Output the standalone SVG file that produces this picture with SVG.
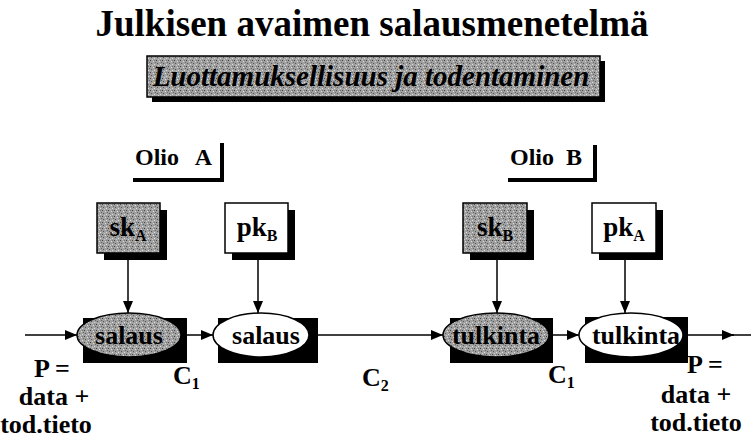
<svg xmlns="http://www.w3.org/2000/svg" width="753" height="439" viewBox="0 0 753 439">
<defs>
<pattern id="tex" width="6" height="6" patternUnits="userSpaceOnUse">
<rect width="6" height="6" fill="#a0a0a0"/>
<rect x="0" y="0" width="1" height="1" fill="#444"/>
<rect x="3" y="1" width="1" height="1" fill="#ddd"/>
<rect x="1" y="3" width="1" height="1" fill="#555"/>
<rect x="4" y="4" width="1" height="1" fill="#e0e0e0"/>
<rect x="5" y="2" width="1" height="1" fill="#666"/>
<rect x="2" y="5" width="1" height="1" fill="#ccc"/>
<rect x="4" y="0" width="1" height="1" fill="#777"/>
</pattern>
<marker id="ah" viewBox="0 0 12 10" refX="12" refY="5" markerWidth="12" markerHeight="10" markerUnits="userSpaceOnUse" orient="auto">
<path d="M0,0 L12,5 L0,10 Z" fill="#000"/>
</marker>
</defs>
<style>
text{font-family:"Liberation Serif","Times New Roman",serif;font-weight:bold;fill:#000}
.lbl{font-size:26px}
.olio{font-size:24px}
.key{font-size:27px}
.sub{font-size:16px}
.box{stroke:#000;stroke-width:1.5}
.sh{fill:#000}
.conn line{stroke:#000;stroke-width:1.5;marker-end:url(#ah)}
</style>
<rect width="753" height="439" fill="#fff"/>

<g id="title">
<text x="372" y="36" text-anchor="middle" style="font-size:37px">Julkisen avaimen salausmenetelmä</text>
</g>
<g id="subtitle">
<rect x="152" y="61" width="453" height="41" class="sh"/>
<rect x="147" y="56" width="453" height="41" fill="url(#tex)" class="box"/>
<text x="371" y="86" text-anchor="middle" style="font-size:29px;font-style:italic">Luottamuksellisuus ja todentaminen</text>
</g>

<g id="olioA">
<text x="135" y="165" class="olio">Olio</text>
<text x="212" y="165" class="olio" text-anchor="end">A</text>
<path d="M133,180 H222 V143" fill="none" stroke="#000" stroke-width="4"/>
</g>
<g id="olioB">
<text x="510" y="165" class="olio">Olio</text>
<text x="582" y="165" class="olio" text-anchor="end">B</text>
<path d="M508,180 H595 V145" fill="none" stroke="#000" stroke-width="4"/>
</g>

<g id="skA">
<rect x="104" y="210" width="63" height="50" class="sh"/>
<rect x="97" y="203" width="63" height="50" fill="url(#tex)" class="box"/>
<text x="128" y="236" class="key" text-anchor="middle">sk<tspan class="sub" dy="5">A</tspan></text>
</g>
<g id="pkB">
<rect x="232" y="210" width="63" height="50" class="sh"/>
<rect x="225" y="203" width="63" height="50" fill="#fff" class="box"/>
<text x="257" y="236" class="key" text-anchor="middle">pk<tspan class="sub" dy="5">B</tspan></text>
</g>
<g id="skB">
<rect x="470" y="210" width="64" height="50" class="sh"/>
<rect x="463" y="203" width="64" height="50" fill="url(#tex)" class="box"/>
<text x="495" y="236" class="key" text-anchor="middle">sk<tspan class="sub" dy="5">B</tspan></text>
</g>
<g id="pkA">
<rect x="599" y="210" width="64" height="50" class="sh"/>
<rect x="592" y="203" width="64" height="50" fill="#fff" class="box"/>
<text x="624" y="236" class="key" text-anchor="middle">pk<tspan class="sub" dy="5">A</tspan></text>
</g>

<g id="salausA">
<rect x="83" y="318" width="104" height="45" class="sh"/>
<ellipse cx="129" cy="335" rx="52" ry="22" fill="url(#tex)" class="box"/>
<text x="129" y="344" text-anchor="middle" class="lbl">salaus</text>
</g>
<g id="salausB">
<rect x="218" y="318" width="100" height="45" class="sh"/>
<ellipse cx="261" cy="335" rx="48" ry="22" fill="#fff" class="box"/>
<text x="266" y="344" text-anchor="middle" class="lbl">salaus</text>
</g>
<g id="tulkintaA">
<rect x="450" y="318" width="103" height="45" class="sh"/>
<ellipse cx="496" cy="335" rx="53" ry="22" fill="url(#tex)" class="box"/>
<text x="496" y="344" text-anchor="middle" class="lbl">tulkinta</text>
</g>
<g id="tulkintaB">
<rect x="585" y="317" width="103" height="46" class="sh"/>
<ellipse cx="631" cy="335" rx="52" ry="22" fill="#fff" class="box"/>
<text x="636" y="344" text-anchor="middle" class="lbl">tulkinta</text>
</g>

<g class="conn" id="connectors">
<line x1="25" y1="335" x2="77" y2="335"/>
<line x1="128" y1="253" x2="128" y2="313"/>
<line x1="187" y1="335" x2="213" y2="335"/>
<line x1="258" y1="253" x2="258" y2="313"/>
<line x1="318" y1="335" x2="443" y2="335"/>
<line x1="497" y1="253" x2="497" y2="313"/>
<line x1="553" y1="335" x2="579" y2="335"/>
<line x1="625" y1="253" x2="625" y2="313"/>
<line x1="688" y1="335" x2="734" y2="335"/>
<line x1="732" y1="335" x2="751" y2="335" style="marker-end:none"/>
</g>

<g id="labels">
<text x="52" y="377" text-anchor="middle" class="lbl">P =</text>
<text x="54" y="405" text-anchor="middle" class="lbl">data +</text>
<text x="46" y="433" text-anchor="middle" class="lbl">tod.tieto</text>
<text x="173" y="384" class="lbl">C<tspan class="sub" dy="5">1</tspan></text>
<text x="362" y="386" class="lbl">C<tspan class="sub" dy="5">2</tspan></text>
<text x="548" y="383" class="lbl">C<tspan class="sub" dy="5">1</tspan></text>
<text x="705" y="373" text-anchor="middle" class="lbl">P =</text>
<text x="696" y="403" text-anchor="middle" class="lbl">data +</text>
<text x="696" y="431" text-anchor="middle" class="lbl">tod.tieto</text>
</g>
</svg>
